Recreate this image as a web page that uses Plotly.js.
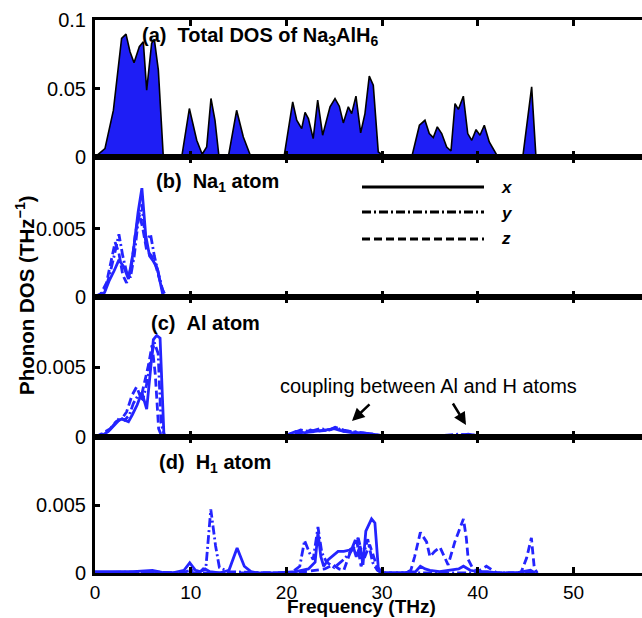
<!DOCTYPE html>
<html>
<head>
<meta charset="utf-8">
<script src="https://cdn.plot.ly/plotly-3.0.1.min.js"></script>
<style>
  html, body { margin: 0; padding: 0; background: #fff; }
  #chart { width: 642px; height: 618px; }
</style>
</head>
<body>
<div id="chart"></div>
<script>
// ---- (a) total phonon DOS of Na3AlH6 ----
const totalFreq = [0, 1.04, 1.92, 2.78, 3.24, 3.66, 4.08, 4.63, 5.05, 5.4, 5.92, 6.2, 6.62, 7.14,
  9.06, 9.86, 10.63, 11.2, 11.67, 12.12, 12.54, 12.96, 13.93, 14.8, 15.5, 16.2, 16.3,
  19.75, 20.66, 21.08, 21.6, 21.95, 22.3, 22.8, 23.27, 23.79, 24.56, 25.08, 25.53, 25.95, 26.47, 26.82,
  27.27, 27.76, 28.21, 28.66, 29.08, 29.6, 29.96, 30.1,
  33.1, 33.9, 34.48, 34.93, 35.35, 35.77, 36.23, 36.75, 37.2, 37.62, 37.97, 38.49, 38.95, 39.37,
  39.82, 40.23, 40.68, 41.2, 41.97, 42.1, 44.7, 45.63, 46.08];
const totalDos = [0, 0.0061, 0.034, 0.0866, 0.0897, 0.0768, 0.0688, 0.0805, 0.0841, 0.0488, 0.083, 0.0859, 0.0634, 0,
  0, 0.0354, 0.0122, 0.002, 0.0073, 0.0427, 0.0268, 0, 0, 0.0341, 0.0146, 0.001, 0,
  0, 0.0402, 0.0268, 0.0207, 0.0325, 0.028, 0.0134, 0.0415, 0.0159, 0.0366, 0.0427, 0.0371, 0.0249, 0.0366, 0.0317,
  0.0444, 0.0176, 0.0317, 0.059, 0.0524, 0.0037, 0.002, 0,
  0, 0.0232, 0.0268, 0.0171, 0.0142, 0.022, 0.0171, 0.0073, 0.0044, 0.039, 0.0347, 0.0444, 0.0171, 0.0122,
  0.02, 0.0159, 0.0232, 0.011, 0.002, 0, 0, 0.0512, 0];

// ---- (b) Na1 atom, projected x / y / z ----
const naFreqX = [0, 0.5, 1.0, 1.5, 2.0, 2.5, 3.0, 3.5, 4.0, 4.5, 4.9, 5.3, 5.7, 6.1, 6.5, 6.8, 7.1, 7.5, 9, 10, 11, 14, 17, 18, 20, 30, 40, 46];
const naDosX  = [0, 0.0001, 0.0003, 0.0012, 0.0019, 0.0027, 0.0022, 0.0013, 0.0033, 0.0062, 0.0080, 0.0045, 0.0030, 0.0026, 0.0021, 0.0012, 0.0001, 0, 0, 0.0001, 0, 0, 0.00005, 0, 0, 0, 0, 0];
const naFreqY = [0, 0.5, 1.0, 1.5, 2.0, 2.5, 2.9, 3.3, 3.7, 4.1, 4.5, 4.9, 5.3, 5.8, 6.2, 6.6, 7.0, 7.4, 9, 10, 11, 20, 46];
const naDosY  = [0, 0.0001, 0.0004, 0.0015, 0.0030, 0.0046, 0.0030, 0.0018, 0.0014, 0.0030, 0.0055, 0.0068, 0.0040, 0.0046, 0.0030, 0.0018, 0.0006, 0, 0, 0.00008, 0, 0, 0];
const naFreqZ = [0, 0.6, 1.2, 1.7, 2.1, 2.5, 2.9, 3.3, 3.8, 4.2, 4.6, 5.0, 5.4, 5.9, 6.3, 6.7, 7.1, 7.4, 9, 10, 11, 46];
const naDosZ  = [0, 0.0002, 0.0010, 0.0028, 0.0040, 0.0032, 0.0016, 0.0010, 0.0022, 0.0045, 0.0062, 0.0050, 0.0034, 0.0030, 0.0024, 0.0014, 0.0004, 0, 0, 0.0001, 0, 0];

// ---- (c) Al atom ----
const alFreqX = [0, 0.7, 1.4, 2.0, 2.5, 2.8, 3.2, 3.5, 3.9, 4.4, 4.9, 5.4, 5.8, 6.1, 6.45, 6.8, 7.2, 7.5, 10, 15, 19.5,
  21, 22, 22.5, 23, 24, 25, 25.5, 26, 27, 28, 29, 30, 33, 36, 38, 39, 40, 42, 46];
const alDosX  = [0, 0.0001, 0.0004, 0.0008, 0.0012, 0.0013, 0.0012, 0.0011, 0.0016, 0.0023, 0.0032, 0.0020, 0.0048, 0.0070, 0.0073, 0.0071, 0.0002, 0, 0.00005, 0.00003, 0,
  0.0004, 0.0003, 0.0005, 0.0004, 0.0005, 0.0006, 0.0005, 0.0004, 0.0003, 0.0003, 0.0002, 0.0001, 0, 0.00005, 0.0001, 0.0002, 0.0001, 0.00005, 0];
const alFreqY = [0, 0.8, 1.5, 2.1, 2.6, 3.1, 3.6, 4.0, 4.5, 5.0, 5.4, 5.8, 6.2, 6.6, 6.9, 7.3, 10, 20, 21.5, 22.5, 23.5, 24.5, 25.2, 26, 27, 28, 29, 30, 34, 38, 40, 46];
const alDosY  = [0, 0.0002, 0.0005, 0.0010, 0.0014, 0.0012, 0.0016, 0.0024, 0.0030, 0.0027, 0.0038, 0.0055, 0.0068, 0.0060, 0.0010, 0, 0.00005, 0.0001, 0.0005, 0.0004, 0.0006, 0.0005, 0.0007, 0.0004, 0.0004, 0.0003, 0.0002, 0.0001, 0, 0.0002, 0.0001, 0];
const alFreqZ = [0, 0.9, 1.6, 2.2, 2.8, 3.3, 3.87, 4.35, 4.8, 5.2, 5.6, 5.96, 6.3, 6.65, 7.0, 10, 20, 21.5, 23, 24.5, 25.1, 26, 27.5, 29, 30, 38, 46];
const alDosZ  = [0, 0.0003, 0.0006, 0.0011, 0.0013, 0.0018, 0.0030, 0.0036, 0.0028, 0.0040, 0.0052, 0.0066, 0.0045, 0.0006, 0, 0.00005, 0.0001, 0.0003, 0.0004, 0.0005, 0.0007, 0.0005, 0.0003, 0.0002, 0, 0.0001, 0];

// ---- (d) H1 atom ----
const hFreqX = [0, 2, 4, 6, 6.5, 7, 8, 9.3, 9.9, 10.5, 11, 11.5, 12, 13, 14, 14.85, 15.6, 16.3, 17, 19, 21, 22.3, 23.0, 23.3, 23.6, 23.9,
  24.4, 24.9, 25.4, 26.0, 26.6, 27.0, 27.3, 27.7, 28.0, 28.3, 28.9, 29.25, 29.6, 30, 32, 33.5, 34, 34.5, 35, 36, 37, 38, 38.5,
  39.2, 40, 41, 42, 44, 45.5, 46];
const hDosX  = [0.0001, 0.0001, 0.0001, 0.0002, 0.0001, 0.00005, 0, 0.0002, 0.00075, 0.0002, 0.0001, 0.0003, 0.0001, 0, 0.0002, 0.00185, 0.0005, 0.0001, 0, 0, 0.0001, 0.0003, 0.0008, 0.0030, 0.0012, 0.0005,
  0.0010, 0.0013, 0.0016, 0.0016, 0.0017, 0.0019, 0.0012, 0.0020, 0.0006, 0.0031, 0.0040, 0.0037, 0.0004, 0, 0, 0.0001, 0.0005, 0.0003, 0.0002, 0.0001, 0.0002, 0.0003, 0.0005,
  0.0002, 0.0001, 0.0001, 0, 0, 0.0002, 0];
const hFreqY = [0, 5, 9, 10, 11, 11.6, 12.1, 12.6, 13.0, 14, 18, 20.5, 21.4, 21.9, 22.4, 22.8, 23.3, 23.7, 24.2, 25, 26, 27, 27.5, 28, 28.5, 29, 29.5, 30, 33, 46.3];
const hDosY  = [0, 0.0001, 0, 0.0002, 0.0001, 0.0005, 0.0047, 0.0020, 0.0004, 0.0001, 0, 0, 0.0005, 0.0024, 0.0015, 0.0010, 0.0034, 0.0015, 0.0008, 0.0004, 0.0010, 0.0018, 0.0026, 0.0012, 0.0025, 0.0008, 0.0002, 0, 0, 0];
const hFreqZ = [0, 10, 20, 22, 23, 24, 24.9, 25.5, 26, 26.5, 27.3, 27.8, 28.7, 29.2, 29.6, 30, 32.5, 33.0, 33.4, 34.0, 34.65, 35.0, 35.5, 36.05,
  36.9, 37.6, 38.5, 38.8, 39.0, 39.5, 40, 40.9, 41.5, 42, 44.5, 45.1, 45.6, 45.9, 46.2];
const hDosZ  = [0, 0, 0, 0.0001, 0.0002, 0.0003, 0.0006, 0.0003, 0.0002, 0.0012, 0.0026, 0.0005, 0.0021, 0.0010, 0.0002, 0, 0, 0.0002, 0.0012, 0.0030, 0.0023, 0.0012, 0.0016, 0.0019,
  0.0006, 0.0023, 0.0040, 0.0026, 0.0010, 0.0003, 0.0001, 0.0005, 0.0002, 0, 0, 0.0011, 0.0026, 0.0004, 0];

const xTicks = [0, 10, 20, 30, 40, 50];
const totalTicks = [0, 0.05, 0.1];
const totalTickText = ['0', '0.05', '0.1'];
const atomTicks = [0, 0.005];
const atomTickText = ['0', '0.005'];

// ---- page geometry ----
const W = 642, H = 618, ML = 95, MR = 0, MT = 20, MB = 45;
const px = v => (v - ML) / (W - ML - MR);
const py = v => (H - MB - v) / (H - MT - MB);

const FONT = 'Liberation Sans, Arial, Helvetica, sans-serif';
const BLUE = '#2424ff';
const FILL = '#1e1ef5';
const DASH_Y = '9px,3px,2px,3px';
const DASH_Z = '8px,4px';

function comp(x, y, xa, ya, dash) {
  return { x: x, y: y, xaxis: xa, yaxis: ya, type: 'scatter', mode: 'lines',
    line: { color: BLUE, width: 2.8, dash: dash }, hoverinfo: 'skip', showlegend: false };
}

const traces = [
  { x: totalFreq, y: totalDos, xaxis: 'x', yaxis: 'y', type: 'scatter', mode: 'lines',
    fill: 'tozeroy', fillcolor: FILL, line: { color: '#000', width: 1.6 }, showlegend: false },
  comp(naFreqY, naDosY, 'x2', 'y2', DASH_Y),
  comp(naFreqZ, naDosZ, 'x2', 'y2', DASH_Z),
  comp(naFreqX, naDosX, 'x2', 'y2', 'solid'),
  comp(alFreqY, alDosY, 'x3', 'y3', DASH_Y),
  comp(alFreqZ, alDosZ, 'x3', 'y3', DASH_Z),
  comp(alFreqX, alDosX, 'x3', 'y3', 'solid'),
  comp(hFreqY, hDosY, 'x4', 'y4', DASH_Y),
  comp(hFreqZ, hDosZ, 'x4', 'y4', DASH_Z),
  comp(hFreqX, hDosX, 'x4', 'y4', 'solid')
];

function xAxis(anchor, labels) {
  return { anchor: anchor, range: [0, 57.16], tickvals: xTicks, ticktext: xTicks.map(String),
    showticklabels: labels, ticks: 'inside', ticklen: 6, tickwidth: 3, tickcolor: '#000',
    showline: true, linewidth: 3, linecolor: '#000', mirror: 'ticks',
    showgrid: false, zeroline: false, ticklabelstandoff: 0,
    tickfont: { family: FONT, size: 19, color: '#000' } };
}
function yAxis(anchor, domain, top, vals, text) {
  return { anchor: anchor, domain: domain, range: [0, top], tickvals: vals, ticktext: text,
    ticks: 'inside', ticklen: 5, tickwidth: 3, tickcolor: '#000',
    showline: true, linewidth: 3, linecolor: '#000', mirror: false,
    showgrid: false, zeroline: false, ticklabelstandoff: 2,
    tickfont: { family: FONT, size: 20, color: '#000' } };
}

const dA = [py(157), 1], dB = [py(296.5), py(157)], dC = [py(437), py(296.5)], dD = [0, py(437)];

const NB = '\u00a0';
const annotations = [
  { text: '<b>(a)' + NB + NB + 'Total DOS of Na<sub>3</sub>AlH<sub>6</sub></b>', x: px(141), y: py(36), xanchor: 'left', yanchor: 'middle' },
  { text: '<b>(b)' + NB + NB + 'Na<sub>1</sub>' + NB + 'atom</b>', x: px(155), y: py(183), xanchor: 'left', yanchor: 'middle' },
  { text: '<b>(c)' + NB + NB + 'Al atom</b>', x: px(150), y: py(323), xanchor: 'left', yanchor: 'middle' },
  { text: '<b>(d)' + NB + NB + 'H<sub>1</sub>' + NB + 'atom</b>', x: px(158), y: py(463), xanchor: 'left', yanchor: 'middle' },
  { text: 'coupling between Al and H atoms', x: px(428), y: py(386), xanchor: 'center', yanchor: 'middle' },
  { text: '<b><i>x</i></b>', x: px(500), y: py(188), xanchor: 'left', yanchor: 'middle', size: 17 },
  { text: '<b><i>y</i></b>', x: px(500), y: py(213), xanchor: 'left', yanchor: 'middle', size: 17 },
  { text: '<b><i>z</i></b>', x: px(500), y: py(239), xanchor: 'left', yanchor: 'middle', size: 17 },
  { text: '<b>Frequency (THz)</b>', x: px(361), y: py(606.5), xanchor: 'center', yanchor: 'middle', size: 19 },
  { text: '<b>Phonon DOS (THz<sup>\u22121</sup>)</b>', x: px(25), y: py(295), xanchor: 'center', yanchor: 'middle', textangle: -90, size: 20.5 }
].map(a => ({
  text: a.text, x: a.x, y: a.y, xref: 'paper', yref: 'paper', xanchor: a.xanchor, yanchor: a.yanchor,
  textangle: a.textangle || 0, showarrow: false, borderpad: 0,
  font: { family: FONT, size: a.size || 20, color: '#000' }
}));

// arrows pointing at the Al-H coupling features in panel (c)
annotations.push(
  { text: '', xref: 'paper', yref: 'paper', x: px(352), y: py(421), ax: 19, ay: -18,
    showarrow: true, arrowhead: 2, arrowsize: 1, arrowwidth: 2.5, arrowcolor: '#000' },
  { text: '', xref: 'paper', yref: 'paper', x: px(466), y: py(425), ax: -14, ay: -23,
    showarrow: true, arrowhead: 2, arrowsize: 1, arrowwidth: 2.5, arrowcolor: '#000' }
);

// legend key lines for the x / y / z components
const keyLine = (yPix, dash) => ({ type: 'line', xref: 'paper', yref: 'paper',
  x0: px(362), x1: px(484), y0: py(yPix), y1: py(yPix), line: { color: '#000', width: 3, dash: dash } });
const shapes = [keyLine(187, 'solid'), keyLine(212, DASH_Y), keyLine(239, DASH_Z)];

const layout = {
  width: W, height: H, margin: { l: ML, r: MR, t: MT, b: MB, pad: 0 },
  paper_bgcolor: '#fff', plot_bgcolor: '#fff', showlegend: false,
  font: { family: FONT, size: 20, color: '#000' },
  xaxis: xAxis('y', false), xaxis2: xAxis('y2', false), xaxis3: xAxis('y3', false), xaxis4: xAxis('y4', true),
  yaxis: yAxis('x', dA, 0.1, totalTicks, totalTickText),
  yaxis2: yAxis('x2', dB, 0.0103, atomTicks, atomTickText),
  yaxis3: yAxis('x3', dC, 0.0101, atomTicks, atomTickText),
  yaxis4: yAxis('x4', dD, 0.01005, atomTicks, atomTickText),
  annotations: annotations, shapes: shapes
};

Plotly.newPlot('chart', traces, layout, { staticPlot: true, displayModeBar: false });
</script>
</body>
</html>
